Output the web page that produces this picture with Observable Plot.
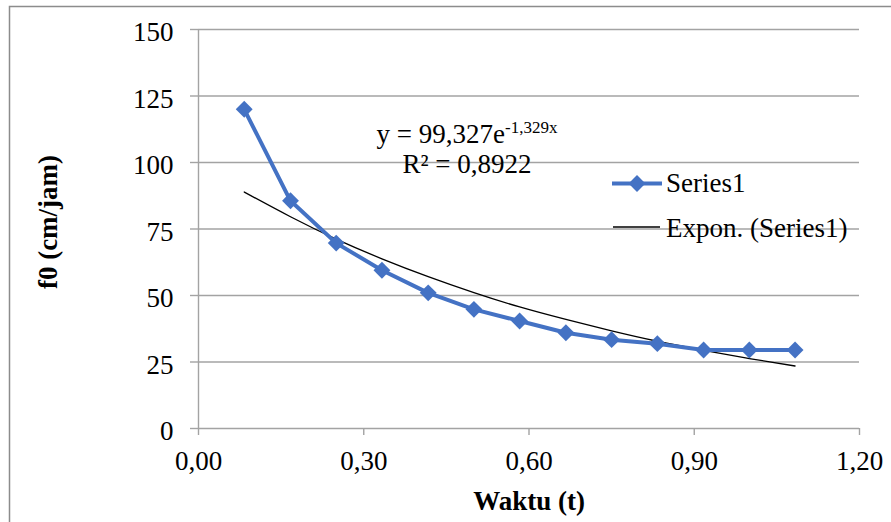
<!DOCTYPE html>
<html>
<head>
<meta charset="utf-8">
<script src="https://cdn.jsdelivr.net/npm/d3@7"></script>
<script src="https://cdn.jsdelivr.net/npm/@observablehq/plot@0.6"></script>
<style>
  html, body { margin: 0; padding: 0; background: #fff; }
  #chart { position: relative; width: 891px; height: 522px; overflow: hidden; }
</style>
</head>
<body>
<div id="chart"></div>
<script>
// ---- data ----
const timeT = [0.083, 0.167, 0.25, 0.333, 0.417, 0.5, 0.583, 0.667, 0.75, 0.833, 0.917, 1.0, 1.083];
const f0Values = [120, 85.6, 69.7, 59.5, 51.0, 44.8, 40.4, 36.0, 33.4, 31.9, 29.5, 29.5, 29.5];
const trendValues = [88.9, 79.6, 71.2, 63.8, 57.1, 51.1, 45.7, 41.0, 36.7, 32.8, 29.4, 26.3, 23.5];
const xTicks = [0, 0.3, 0.6, 0.9, 1.2];
const yTicks = [0, 25, 50, 75, 100, 125, 150];
const seriesName = "Series1";
const trendName = "Expon. (Series1)";
const equationMain = "y = 99,327e";
const equationExp = "-1,329x";
const rSquared = "R² = 0,8922";
const xTitle = "Waktu (t)";
const yTitle = "f0 (cm/jam)";

const series = timeT.map((t, i) => ({t, v: f0Values[i]}));
const trend = timeT.map((t, i) => ({t, v: trendValues[i]}));

const FONT = "'Liberation Serif', 'Times New Roman', serif";
const BLUE = "#4472C4";
const GRID = "#a3a3a3";
const FS = 27;
const dotR = 7.6;

const chart = Plot.plot({
  width: 891,
  height: 522,
  marginLeft: 198,
  marginRight: 32,
  marginTop: 29,
  marginBottom: 94,
  x: {domain: [0, 1.2]},
  y: {domain: [0, 150]},
  style: {fontFamily: FONT, fontSize: FS + "px", color: "#000", background: "transparent", overflow: "visible"},
  marks: [
    Plot.ruleY(yTicks, {stroke: GRID, strokeWidth: 1.4}),
    Plot.ruleX([0], {stroke: GRID, strokeWidth: 1.4}),
    Plot.axisY({ticks: yTicks, tickSize: 8, tickFormat: () => "", stroke: GRID, strokeWidth: 1.4, label: null}),
    Plot.axisY({ticks: yTicks, tickSize: 0, tickPadding: 25, tickFormat: d => String(d), dy: 3, fontSize: FS, label: null}),
    Plot.axisX({ticks: xTicks, tickSize: 7, tickPadding: 15, tickFormat: d => d.toFixed(2).replace(".", ","), stroke: GRID, strokeWidth: 1.4, fontSize: FS, label: null}),
    Plot.line(trend, {x: "t", y: "v", curve: "natural", stroke: "#000", strokeWidth: 1.3}),
    Plot.line(series, {x: "t", y: "v", stroke: BLUE, strokeWidth: 4}),
    Plot.dot(series, {x: "t", y: "v", symbol: "diamond2", r: dotR, fill: BLUE, stroke: "none"}),
    Plot.text([xTitle], {text: d => d, frameAnchor: "bottom", textAnchor: "middle", lineAnchor: "middle", dy: 72.4, fontWeight: "bold", fontSize: FS}),
    Plot.text([yTitle], {text: d => d, frameAnchor: "left", textAnchor: "middle", lineAnchor: "middle", rotate: -90, dx: -150, dy: -7, fontWeight: "bold", fontSize: FS})
  ]
});

document.getElementById("chart").appendChild(chart);

// ---- chart border, legend, trendline label ----
const svg = d3.select(chart);
svg.insert("rect", ":first-child")
  .attr("x", 9.5).attr("y", 6.5).attr("width", 1000).attr("height", 1000)
  .attr("fill", "none").attr("stroke", "#8c8c8c").attr("stroke-width", 1.5);

const lg = svg.append("g").attr("font-family", FONT).attr("font-size", FS).attr("fill", "#000").attr("text-anchor", "start");
lg.append("line").attr("x1", 612).attr("x2", 662).attr("y1", 183.5).attr("y2", 183.5)
  .attr("stroke", BLUE).attr("stroke-width", 4);
lg.append("path").attr("transform", "translate(637,183.5)")
  .attr("d", d3.symbol(d3.symbolDiamond2, Math.PI * dotR * dotR)())
  .attr("fill", BLUE);
lg.append("text").attr("x", 666).attr("y", 191.7).attr("text-anchor", "start").text(seriesName);
lg.append("line").attr("x1", 613).attr("x2", 660).attr("y1", 227).attr("y2", 227)
  .attr("stroke", "#000").attr("stroke-width", 1.3);
lg.append("text").attr("x", 666).attr("y", 236.7).attr("text-anchor", "start").text(trendName);

const eq = lg.append("text").attr("x", 467).attr("y", 143.3).attr("text-anchor", "middle");
eq.append("tspan").text(equationMain);
eq.append("tspan").attr("dy", -10).attr("font-size", 17).text(equationExp);
lg.append("text").attr("x", 467).attr("y", 172.7).attr("text-anchor", "middle").text(rSquared);
</script>
</body>
</html>
